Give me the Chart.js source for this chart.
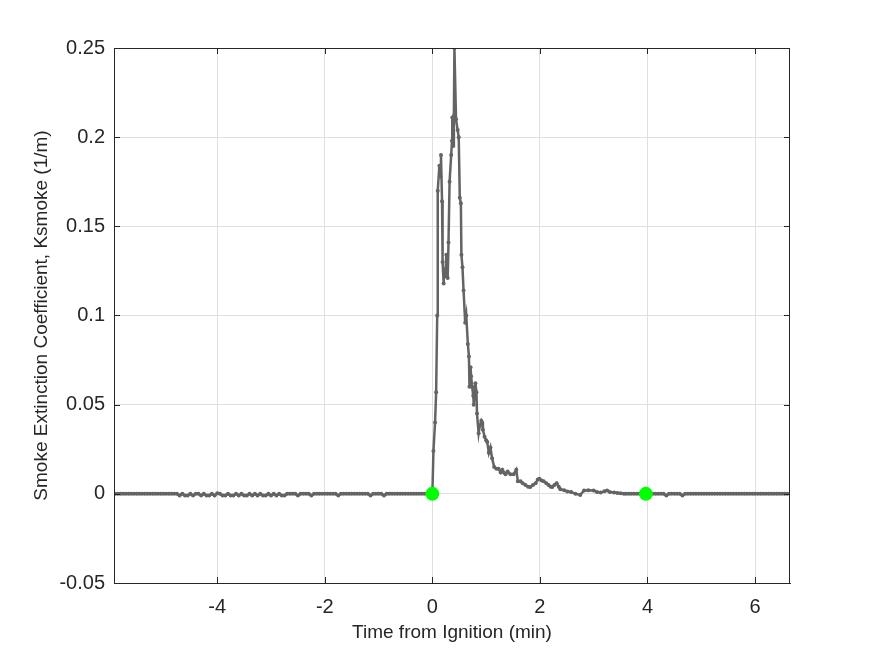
<!DOCTYPE html>
<html>
<head>
<meta charset="utf-8">
<script src="https://cdn.jsdelivr.net/npm/chart.js@4"></script>
<style>
  body { margin: 0; background: #fff; }
  canvas { display: block; }
</style>
</head>
<body>
<canvas id="smoke_chart" width="875" height="656"></canvas>
<script>
// time from ignition (min) and smoke extinction coefficient (1/m)
const time_min = [
  -5.90, -5.85, -5.80, -5.75, -5.70, -5.65, -5.60, -5.55, -5.50, -5.45,
  -5.40, -5.35, -5.30, -5.25, -5.20, -5.15, -5.10, -5.05, -5.00, -4.95,
  -4.90, -4.85, -4.80, -4.75, -4.70, -4.65, -4.60, -4.55, -4.50, -4.45,
  -4.40, -4.35, -4.30, -4.25, -4.20, -4.15, -4.10, -4.05, -4.00, -3.95,
  -3.90, -3.85, -3.80, -3.75, -3.70, -3.65, -3.60, -3.55, -3.50, -3.45,
  -3.40, -3.35, -3.30, -3.25, -3.20, -3.15, -3.10, -3.05, -3.00, -2.95,
  -2.90, -2.85, -2.80, -2.75, -2.70, -2.65, -2.60, -2.55, -2.50, -2.45,
  -2.40, -2.35, -2.30, -2.25, -2.20, -2.15, -2.10, -2.05, -2.00, -1.95,
  -1.90, -1.85, -1.80, -1.75, -1.70, -1.65, -1.60, -1.55, -1.50, -1.45,
  -1.40, -1.35, -1.30, -1.25, -1.20, -1.15, -1.10, -1.05, -1.00, -0.95,
  -0.90, -0.85, -0.80, -0.75, -0.70, -0.65, -0.60, -0.55, -0.50, -0.45,
  -0.40, -0.35, -0.30, -0.25, -0.20, -0.15, -0.10, -0.05, 0.00,
  0.02, 0.05, 0.07, 0.09, 0.10, 0.13, 0.15, 0.16, 0.18, 0.19,
  0.21, 0.22, 0.24, 0.26, 0.285, 0.30, 0.32, 0.35, 0.365, 0.37,
  0.385, 0.40, 0.41, 0.44, 0.47, 0.49, 0.51, 0.53, 0.54, 0.56,
  0.58, 0.61, 0.63, 0.66, 0.68, 0.69, 0.71, 0.72, 0.74, 0.76,
  0.77, 0.80, 0.82, 0.83, 0.86, 0.88, 0.91, 0.925, 0.94, 0.97,
  1.00, 1.02, 1.05, 1.08, 1.11, 1.15, 1.19, 1.23, 1.27, 1.30,
  1.33, 1.36, 1.40, 1.45, 1.51, 1.56, 1.59, 1.64, 1.68, 1.73,
  1.78, 1.82, 1.87, 1.92, 1.96, 1.99, 2.03, 2.07, 2.12, 2.16,
  2.20, 2.23, 2.27, 2.31, 2.35, 2.38, 2.45, 2.51, 2.58, 2.66,
  2.75, 2.82, 2.90, 3.00, 3.06, 3.13, 3.20, 3.25, 3.30, 3.38,
  3.44, 3.50, 3.56,
  3.60, 3.65, 3.70, 3.75, 3.80, 3.85, 3.90, 3.95, 4.00, 4.05,
  4.10, 4.15, 4.20, 4.25, 4.30, 4.35, 4.40, 4.45, 4.50, 4.55,
  4.60, 4.65, 4.70, 4.75, 4.80, 4.85, 4.90, 4.95, 5.00, 5.05,
  5.10, 5.15, 5.20, 5.25, 5.30, 5.35, 5.40, 5.45, 5.50, 5.55,
  5.60, 5.65, 5.70, 5.75, 5.80, 5.85, 5.90, 5.95, 6.00, 6.05,
  6.10, 6.15, 6.20, 6.25, 6.30, 6.35, 6.40, 6.45, 6.50, 6.55,
  6.60
];
const ksmoke = [
  0, 0, 0, 0, 0, 0, 0, 0, 0, 0,
  0, 0, 0, 0, 0, 0, 0, 0, 0, 0,
  0, 0, 0, 0, -0.001, 0, -0.001, -0.001, 0, -0.001,
  0, 0, -0.001, 0, -0.001, -0.001, 0, -0.001, 0.0003, 0,
  -0.001, -0.001, 0, -0.001, -0.001, 0, -0.001, 0, -0.001, -0.001,
  0, -0.001, 0, -0.001, 0, -0.001, -0.001, 0, -0.001, 0,
  -0.001, 0, -0.001, -0.001, 0, 0, 0, 0, -0.001, 0,
  0, 0, 0, -0.001, 0, 0, 0, 0, 0, 0,
  0, 0, 0, -0.001, 0, 0, 0, 0, 0, 0,
  0, 0, 0, 0, 0, -0.001, 0, 0, 0, 0,
  -0.001, 0, 0, 0, 0, 0, 0, 0, 0, 0,
  0, 0, 0, 0, 0, 0, 0, 0, 0,
  0.024, 0.040, 0.057, 0.100, 0.170, 0.184, 0.178, 0.190, 0.164, 0.130,
  0.118, 0.126, 0.122, 0.134, 0.121, 0.141, 0.175, 0.190, 0.198, 0.211,
  0.195, 0.212, 0.250, 0.210, 0.204, 0.200, 0.166, 0.163, 0.134, 0.127,
  0.114, 0.096, 0.100, 0.084, 0.077, 0.060, 0.071, 0.066, 0.060, 0.055,
  0.050, 0.062, 0.057, 0.045, 0.034, 0.038, 0.041, 0.040, 0.036, 0.032,
  0.030, 0.029, 0.023, 0.026, 0.020, 0.015, 0.014, 0.014, 0.012, 0.0135,
  0.012, 0.011, 0.0125, 0.011, 0.011, 0.0135, 0.007, 0.007, 0.006, 0.005,
  0.004, 0.0038, 0.005, 0.006, 0.008, 0.0084, 0.0075, 0.007, 0.006, 0.005,
  0.004, 0.0038, 0.005, 0.006, 0.004, 0.0026, 0.002, 0.0013, 0.001, 0,
  -0.0006, 0.0019, 0.002, 0.0019, 0.001, 0.0007, 0.0015, 0.0019, 0.001, 0.0008,
  0.0004, 0.0003, 0,
  0, 0, 0, 0, 0, 0, 0, 0, 0, 0,
  0, 0, 0, 0, 0, -0.001, 0, 0, 0, 0,
  0, -0.001, 0, 0, 0, 0, 0, 0, 0, 0,
  0, 0, 0, 0, 0, 0, 0, 0, 0, 0,
  0, 0, 0, 0, 0, 0, 0, 0, 0, 0,
  0, 0, 0, 0, 0, 0, 0, 0, 0, 0,
  0
];

// ignition / end markers
const event_time = [0, 3.97];
const event_value = [0, 0];

const x_ticks = [-4, -2, 0, 2, 4, 6];
const y_ticks = [-0.05, 0, 0.05, 0.1, 0.15, 0.2, 0.25];

const smoke_points = time_min.map((t, i) => ({ x: t, y: ksmoke[i] }));
const event_points = event_time.map((t, i) => ({ x: t, y: event_value[i] }));

const axis_color = "#262626";
const font_family = "'Liberation Sans', Arial, sans-serif";

// box around the axes and inward tick marks (matlab style)
const box_plugin = {
  id: "box_plugin",
  afterDraw(chart) {
    const { ctx, chartArea: a, scales } = chart;
    ctx.save();
    ctx.strokeStyle = axis_color;
    ctx.lineWidth = 1;
    ctx.strokeRect(a.left + 0.5, a.top + 0.5, a.right - a.left - 1, a.bottom - a.top);
    ctx.beginPath();
    x_ticks.forEach((v) => {
      const px = Math.round(scales.x.getPixelForValue(v)) + 0.5;
      ctx.moveTo(px, a.bottom); ctx.lineTo(px, a.bottom - 6);
      ctx.moveTo(px, a.top); ctx.lineTo(px, a.top + 6);
    });
    y_ticks.forEach((v) => {
      const py = Math.round(scales.y.getPixelForValue(v)) + 0.5;
      ctx.moveTo(a.left, py); ctx.lineTo(a.left + 6, py);
      ctx.moveTo(a.right, py); ctx.lineTo(a.right - 6, py);
    });
    ctx.stroke();
    ctx.restore();
  },
};

const smoke_config = {
  type: "line",
  data: {
    datasets: [
      {
        data: event_points,
        showLine: false,
        pointRadius: 7,
        pointBackgroundColor: "#00ff00",
        pointBorderColor: "#00ff00",
        pointBorderWidth: 0,
        order: 0,
      },
      {
        data: smoke_points,
        borderColor: "#646464",
        backgroundColor: "#646464",
        borderWidth: 2.5,
        pointRadius: 2,
        pointBorderWidth: 0,
        pointBackgroundColor: "#646464",
        tension: 0,
        order: 1,
      },
    ],
  },
  options: {
    responsive: false,
    animation: false,
    events: [],
    layout: { padding: { left: 0, top: 48, right: 85, bottom: 0 } },
    plugins: { legend: { display: false }, tooltip: { enabled: false } },
    scales: {
      x: {
        type: "linear",
        min: -5.92,
        max: 6.65,
        afterFit: (s) => { s.height = 73; },
        afterBuildTicks: (s) => { s.ticks = x_ticks.map((v) => ({ value: v })); },
        grid: { color: "#dfdfdf", drawTicks: false, tickLength: 0 },
        border: { display: true, color: axis_color },
        ticks: {
          color: axis_color,
          padding: 12,
          maxRotation: 0,
          font: { family: font_family, size: 20 },
          callback: (v) => String(v),
        },
        title: {
          display: true,
          text: "Time from Ignition (min)",
          color: axis_color,
          padding: { top: 0, bottom: 12 },
          font: { family: font_family, size: 19 },
        },
      },
      y: {
        type: "linear",
        min: -0.05,
        max: 0.25,
        afterFit: (s) => { s.width = 114; },
        afterBuildTicks: (s) => { s.ticks = y_ticks.map((v) => ({ value: v })); },
        grid: { color: "#dfdfdf", drawTicks: false, tickLength: 0 },
        border: { display: true, color: axis_color },
        ticks: {
          color: axis_color,
          padding: 9,
          font: { family: font_family, size: 20 },
          callback: (v) => String(+v.toFixed(2)),
        },
        title: {
          display: true,
          text: "Smoke Extinction Coefficient, Ksmoke (1/m)",
          color: axis_color,
          padding: { top: 30, bottom: 0 },
          font: { family: font_family, size: 19 },
        },
      },
    },
  },
  plugins: [box_plugin],
};

const smoke_chart = new Chart(document.getElementById("smoke_chart"), smoke_config);
</script>
</body>
</html>
